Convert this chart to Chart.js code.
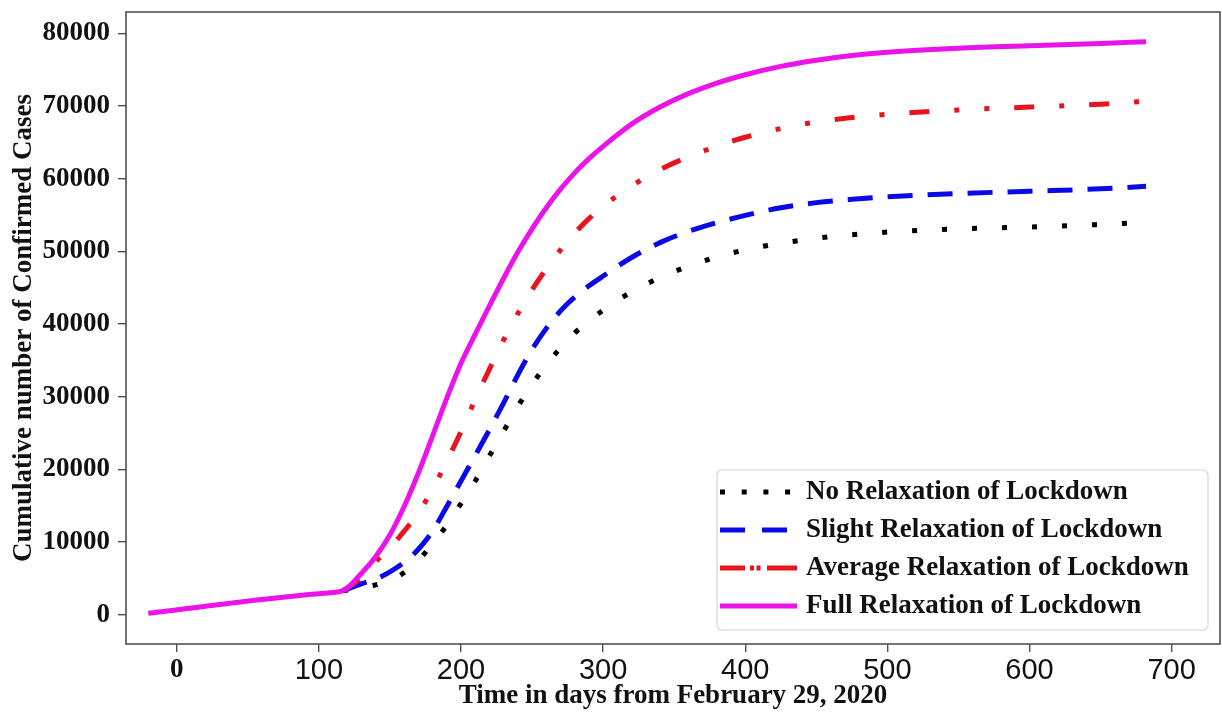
<!DOCTYPE html>
<html><head><meta charset="utf-8">
<script src="https://cdn.jsdelivr.net/npm/chart.js@4.4.1/dist/chart.umd.min.js"></script>
<style>html,body{margin:0;padding:0;background:#fff;}canvas{display:block;}</style>
</head><body>
<canvas id="c" width="1222" height="712"></canvas>
<script>
// ---- data ----
// (the shared early segment is drawn once, by the top-most magenta series; the others start where they branch off)
const days = [-20, 100, 117, 130, 140, 150, 160, 170, 180, 190, 200, 210, 220, 230, 240, 250, 260, 270, 280, 290, 300, 320, 340, 360, 380, 400, 425, 450, 475, 500, 550, 600, 650, 682];
const noRelaxation      = [null, null, 3300, 3700, 4100, 4700, 5800, 7450, 9800, 12300, 15300, 18400, 21850, 25260, 28660, 31700, 34360, 36720, 38770, 40410, 41920, 44420, 46390, 47960, 49230, 50210, 51100, 51790, 52290, 52650, 53080, 53350, 53700, 54000];
const slightRelaxation  = [null, null, 3300, 4250, 4900, 5900, 7200, 9000, 11500, 14900, 18400, 21900, 25450, 29150, 33000, 36500, 39400, 41800, 43700, 45250, 46600, 49150, 51200, 52750, 53950, 54950, 56000, 56700, 57150, 57500, 57950, 58270, 58600, 58950];
const averageRelaxation = [null, null, 3300, 5100, 7300, 9200, 11500, 14000, 17300, 21100, 25200, 29600, 33800, 37800, 41450, 44700, 47600, 50200, 52500, 54500, 56200, 59000, 61250, 63000, 64450, 65700, 66900, 67800, 68400, 68850, 69450, 69850, 70250, 70650];
const fullRelaxation    = [200, 2900, 3300, 5700, 8000, 11000, 14900, 19500, 24600, 29800, 34600, 38600, 42500, 46300, 49900, 53100, 56000, 58550, 60800, 62750, 64450, 67500, 69850, 71700, 73150, 74300, 75450, 76300, 76950, 77400, 77950, 78300, 78600, 78850];
const seriesLabels = ['No Relaxation of Lockdown', 'Slight Relaxation of Lockdown', 'Average Relaxation of Lockdown', 'Full Relaxation of Lockdown'];
const xTickValues = [0, 100, 200, 300, 400, 500, 600, 700];
const yTickValues = [0, 10000, 20000, 30000, 40000, 50000, 60000, 70000, 80000];
const xTitle = 'Time in days from February 29, 2020';
const yTitle = 'Cumulative number of Confirmed Cases';

const pts = arr => days.map((d, i) => ({x: d, y: arr[i]})).filter(p => p.y !== null);

const SERIF_BOLD = {family: "'Liberation Serif', 'Times New Roman', serif", weight: 'bold', size: 27};
const SANS = {family: "'Liberation Sans', Arial, sans-serif", weight: 'normal', size: 29};

const styles = [
  {color: '#000000', dash: [5, 25], legendDash: [5, 16.7], order: 3},
  {color: '#0a0ae6', dash: [25, 15], legendDash: [25, 17], order: 2},
  {color: '#e8141c', dash: [20, 25, 5, 25, 20, 25, 5, 25, 5, 25], legendDash: [25, 5, 4, 2.5, 4, 6.5, 30], order: 1},
  {color: '#ea14ea', dash: [], legendDash: [], order: 0}
];
const seriesValues = [noRelaxation, slightRelaxation, averageRelaxation, fullRelaxation];

const datasets = seriesValues.map((v, i) => ({
  label: seriesLabels[i],
  data: pts(v),
  borderColor: styles[i].color,
  backgroundColor: styles[i].color,
  borderWidth: 5,
  borderDash: styles[i].dash,
  borderCapStyle: 'butt',
  pointRadius: 0,
  fill: false,
  cubicInterpolationMode: 'monotone',
  order: styles[i].order
}));

const framePlugin = {
  id: 'framePlugin',
  afterDatasetsDraw(chart) {
    const {ctx, chartArea: a} = chart;
    ctx.save();
    ctx.strokeStyle = '#505050';
    ctx.lineWidth = 1.6;
    ctx.strokeRect(a.left, a.top, a.right - a.left, a.bottom - a.top);
    ctx.restore();
  },
  afterDraw(chart) {
    const {ctx, chartArea: a} = chart;
    const bw = 491, bh = 160;
    const bx = a.right - 12 - bw, by = a.bottom - 14 - bh;
    ctx.save();
    ctx.beginPath();
    ctx.roundRect(bx, by, bw, bh, 5);
    ctx.fillStyle = 'rgba(255,255,255,0.85)';
    ctx.fill();
    ctx.strokeStyle = '#d4d4d4';
    ctx.lineWidth = 1.2;
    ctx.stroke();
    ctx.font = "bold 27px 'Liberation Serif', 'Times New Roman', serif";
    ctx.textBaseline = 'middle';
    ctx.textAlign = 'left';
    for (let i = 0; i < 4; i++) {
      const y = by + 22 + i * 38;
      ctx.beginPath();
      ctx.setLineDash(styles[i].legendDash);
      ctx.lineCap = 'butt';
      ctx.strokeStyle = styles[i].color;
      ctx.lineWidth = 5;
      ctx.moveTo(bx + 3, y);
      ctx.lineTo(bx + 80, y);
      ctx.stroke();
      ctx.setLineDash([]);
      ctx.fillStyle = '#111';
      ctx.fillText(seriesLabels[i], bx + 89, y);
    }
    ctx.restore();
  }
};

new Chart(document.getElementById('c'), {
  type: 'line',
  data: {datasets},
  plugins: [framePlugin],
  options: {
    responsive: false,
    animation: false,
    events: [],
    layout: {padding: {left: 0, right: 2, top: 12, bottom: 0}},
    plugins: {legend: {display: false}, tooltip: {enabled: false}},
    scales: {
      x: {
        type: 'linear',
        min: -35.7, max: 734,
        afterFit: s => { s.height = 68; s.paddingLeft = 0; s.paddingRight = 0; },
        afterBuildTicks: s => { s.ticks = xTickValues.map(v => ({value: v})); },
        border: {display: false},
        grid: {drawOnChartArea: false, drawTicks: true, tickLength: 8, color: '#505050', lineWidth: 1.4},
        ticks: {
          autoSkip: false, maxRotation: 0, padding: 2, color: '#111',
          font: c => (c.tick && c.tick.value === 0) ? SERIF_BOLD : SANS,
          callback: v => String(v)
        },
        title: {display: true, text: xTitle, color: '#111', font: SERIF_BOLD, padding: {top: 3, bottom: 0}}
      },
      y: {
        type: 'linear',
        min: -4030, max: 82930,
        afterFit: s => { s.width = 126; s.paddingTop = 0; s.paddingBottom = 0; },
        afterBuildTicks: s => { s.ticks = yTickValues.map(v => ({value: v})); },
        border: {display: false},
        grid: {drawOnChartArea: false, drawTicks: true, tickLength: 8, color: '#505050', lineWidth: 1.4},
        ticks: {autoSkip: false, padding: 8, color: '#111', font: SERIF_BOLD, callback: v => String(v)},
        title: {display: true, text: yTitle, color: '#111', font: SERIF_BOLD, padding: {top: 8, bottom: 0}}
      }
    }
  }
});
</script>
</body></html>
